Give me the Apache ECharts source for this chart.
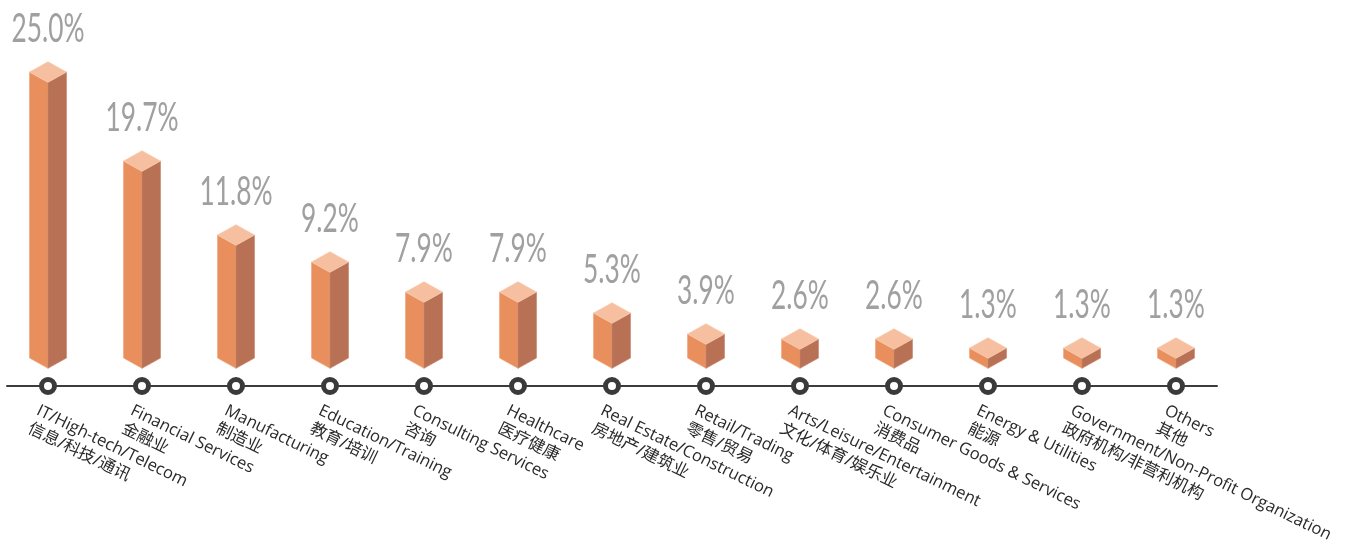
<!DOCTYPE html>
<html>
<head>
<meta charset="utf-8">
<script src="https://cdn.jsdelivr.net/npm/echarts@6/dist/echarts.min.js"></script>
<style>
html,body{margin:0;padding:0;background:#fff;}
#chart{width:1350px;height:541px;}
</style>
</head>
<body>
<div id="chart"></div>
<script>
// ---- data ----
const categoriesEn = ['IT/High-tech/Telecom','Financial Services','Manufacturing','Education/Training','Consulting Services','Healthcare','Real Estate/Construction','Retail/Trading','Arts/Leisure/Entertainment','Consumer Goods & Services','Energy & Utilities','Government/Non-Profit Organization','Others'];
const categoriesZh = ['信息/科技/通讯','金融业','制造业','教育/培训','咨询','医疗健康','房地产/建筑业','零售/贸易','文化/体育/娱乐业','消费品','能源','政府机构/非营利机构','其他'];
const shares = [25.0, 19.7, 11.8, 9.2, 7.9, 7.9, 5.3, 3.9, 2.6, 2.6, 1.3, 1.3, 1.3];
// drawn bar heights (bars are not proportional to the shares)
const barHeights = [286, 197, 123, 96, 66, 66, 45, 24, 19, 19, 10, 10, 10];

// ---- styles ----
const Y_MIN = -28, Y_MAX = 310;
const VALUE_FONT_FAMILY = "Lato, 'DejaVu Sans Condensed', sans-serif";
const VALUE_FONT_WEIGHT = 400;
const VALUE_FONT_SIZE = 40;
const VALUE_TARGET_W = 73; // width of "25.0%" in px
const mctx = document.createElement('canvas').getContext('2d');
mctx.font = VALUE_FONT_WEIGHT + ' ' + VALUE_FONT_SIZE + 'px ' + VALUE_FONT_FAMILY;
const valueScaleX = VALUE_TARGET_W / mctx.measureText('25.0%').width;

const chart = echarts.init(document.getElementById('chart'));

const barData = barHeights.map((h, i) => [i, h, shares[i]]);
const dotData = categoriesEn.map((c, i) => [i, Y_MIN]);

function renderBar(params, api) {
  const idx = api.value(0);
  const top = api.coord([idx, api.value(1)]);
  const base = api.coord([idx, 0]);
  const band = api.size([1, 0])[0];
  const hw = band * 0.197;
  const dy = hw * 0.56;
  const cx = top[0];
  const ty = top[1], by = base[1];
  const label = api.value(2).toFixed(1) + '%';
  return {
    type: 'group',
    children: [
      { type: 'polygon', shape: { points: [[cx - hw, ty], [cx, ty + dy], [cx, by + dy], [cx - hw, by]] },
        style: { fill: '#E88F5D', stroke: '#EFA57C', lineWidth: 0.6 } },
      { type: 'polygon', shape: { points: [[cx, ty + dy], [cx + hw, ty], [cx + hw, by], [cx, by + dy]] },
        style: { fill: '#B87155', stroke: '#C88468', lineWidth: 0.6 } },
      { type: 'polygon', shape: { points: [[cx - hw, ty], [cx, ty - dy], [cx + hw, ty], [cx, ty + dy]] },
        style: { fill: '#F6BFA0', stroke: '#F8CBB0', lineWidth: 0.6 } },
      { type: 'text', x: cx, y: ty - dy - 33, scaleX: valueScaleX,
        style: { text: label, x: 0, y: 0, align: 'center', verticalAlign: 'middle',
          fontSize: VALUE_FONT_SIZE, fontWeight: VALUE_FONT_WEIGHT, fontFamily: VALUE_FONT_FAMILY, fill: '#A0A0A0' } }
    ]
  };
}

chart.setOption({
  animation: false,
  grid: [
    { left: 1, width: 1222, top: 48, bottom: 155, containLabel: false, outerBoundsMode: 'none' },
    { left: 7, width: 1210, top: 48, bottom: 155, containLabel: false, outerBoundsMode: 'none' }
  ],
  xAxis: [
    { type: 'category', gridIndex: 0, data: categoriesEn.map((e, i) => e + '\n' + categoriesZh[i]),
      axisLine: { show: false, onZero: false }, axisTick: { show: false },
      axisLabel: { interval: 0, rotate: -26, margin: 0, align: 'left', verticalAlign: 'top',
        padding: [16, 0, 0, 1], fontSize: 16.6, lineHeight: 20, color: '#2a2a2a',
        fontFamily: "'Open Sans', 'Noto Sans CJK SC', sans-serif" } },
    { type: 'value', gridIndex: 1, min: 0, max: 1,
      axisLine: { show: true, onZero: false, lineStyle: { color: '#3C3C3C', width: 2 } },
      axisTick: { show: false }, axisLabel: { show: false }, splitLine: { show: false } }
  ],
  yAxis: [
    { type: 'value', gridIndex: 0, min: Y_MIN, max: Y_MAX, show: false },
    { type: 'value', gridIndex: 1, min: 0, max: 1, show: false }
  ],
  series: [
    { type: 'custom', xAxisIndex: 0, yAxisIndex: 0, data: barData, renderItem: renderBar, clip: false },
    { type: 'scatter', xAxisIndex: 0, yAxisIndex: 0, data: dotData, symbol: 'circle', symbolSize: 13,
      clip: false, z: 5, silent: true,
      itemStyle: { color: '#FFFFFF', borderColor: '#3A3A3A', borderWidth: 5, opacity: 1 } }
  ]
});
</script>
</body>
</html>
